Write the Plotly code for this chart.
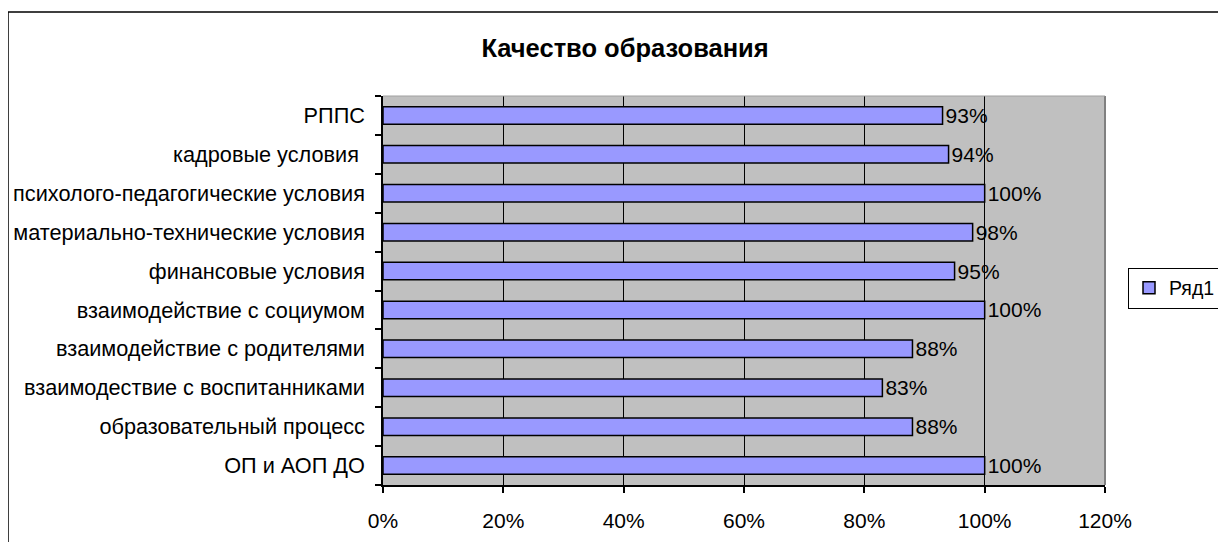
import plotly.graph_objects as go

categories = [
    "ОП и АОП ДО",
    "образовательный процесс",
    "взаимодествие с воспитанниками",
    "взаимодействие с родителями",
    "взаимодействие с социумом",
    "финансовые условия",
    "материально-технические условия",
    "психолого-педагогические условия",
    "кадровые условия ",
    "РППС",
]
values = [100, 88, 83, 88, 100, 95, 98, 100, 94, 93]
x_ticks = [0, 20, 40, 60, 80, 100, 120]
x_tick_labels = [f"{t}%" for t in x_ticks]
series_name = "Ряд1"
title = "Качество образования"

FONT = "Liberation Sans, Arial, sans-serif"

# the page body has an 8px margin, so work in figure coordinates offset by 8
OFF = 8
W, H = 1226 - OFF, 542 - OFF
L, R, T, B = 383 - OFF, 1105 - OFF, 96 - OFF, 485 - OFF

fig = go.Figure()
fig.add_trace(go.Bar(
    y=categories,
    x=values,
    orientation="h",
    name=series_name,
    marker=dict(color="#9999FF", line=dict(color="#000000", width=1.5)),
    text=[f"{v}%" for v in values],
    textposition="outside",
    constraintext="none",
    textfont=dict(family=FONT, size=21, color="#000000"),
    cliponaxis=False,
    width=0.45,
    showlegend=True,
))

fig.update_layout(
    width=W,
    height=H,
    margin=dict(l=L, r=W - R, t=T, b=H - B, autoexpand=False),
    paper_bgcolor="#FFFFFF",
    plot_bgcolor="#C0C0C0",
    font=dict(family=FONT, size=21, color="#000000"),
    title=dict(text=f"<b>{title}</b>", x=(625 - OFF) / W, xanchor="center",
               y=1 - (48 - OFF) / H, yanchor="middle",
               xref="container", yref="container",
               font=dict(family=FONT, size=25.5, color="#000000")),
    showlegend=True,
    legend=dict(
        x=(1128 - OFF - L) / (R - L), xanchor="left",
        y=(B - (288 - OFF)) / (B - T), yanchor="middle",
        bordercolor="#000000", borderwidth=1, bgcolor="#FFFFFF",
        font=dict(family=FONT, size=19.5, color="#000000"),
        itemwidth=30,
    ),
    xaxis=dict(
        range=[0, 120],
        tickvals=x_ticks,
        ticktext=x_tick_labels,
        showgrid=True, gridcolor="#000000", gridwidth=1,
        showline=True, linecolor="#000000", linewidth=1.5,
        ticks="outside", ticklen=6, tickcolor="#000000", tickwidth=1.5,
        zeroline=False,
        tickfont=dict(family=FONT, size=21),
        ticklabelstandoff=10,
        fixedrange=True,
    ),
    yaxis=dict(
        type="category",
        categoryorder="array", categoryarray=categories,
        tickson="boundaries",
        showgrid=False,
        showline=True, linecolor="#000000", linewidth=1.5,
        ticks="outside", ticklen=6, tickcolor="#000000", tickwidth=1.5,
        tickfont=dict(family=FONT, size=21.7),
        ticklabelstandoff=12,
        fixedrange=True,
    ),
)

# right edge of plot area (gray)
fig.add_shape(type="line", xref="paper", yref="paper", x0=1, x1=1, y0=0, y1=1,
              line=dict(color="#808080", width=2))
fig.add_shape(type="line", xref="paper", yref="paper", x0=0, x1=1, y0=1, y1=1,
              line=dict(color="#A0A0A0", width=1))
# chart outer border
fig.add_shape(type="rect", xref="paper", yref="paper",
              x0=(8 - OFF - L) / (R - L), x1=1.3, y0=-0.3, y1=(B - (12 - OFF)) / (B - T),
              line=dict(color="#000000", width=1.5), fillcolor="rgba(0,0,0,0)", layer="below")

fig.write_html("out.html")
